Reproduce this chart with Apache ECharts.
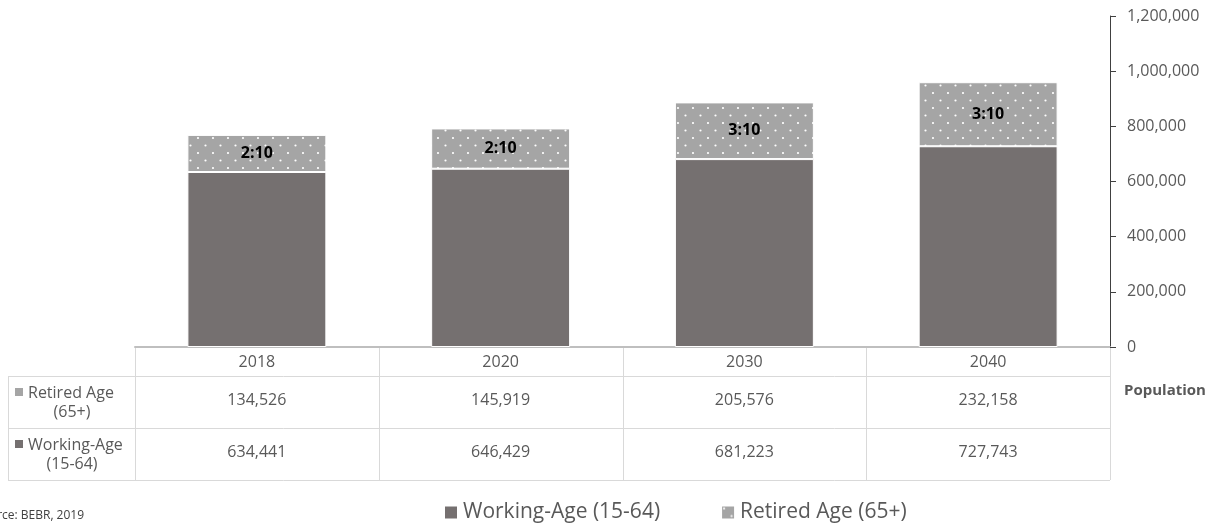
<!DOCTYPE html>
<html>
<head>
<meta charset="utf-8">
<script src="https://cdn.jsdelivr.net/npm/echarts@6/dist/echarts.min.js"></script>
<style>
html, body { margin: 0; padding: 0; background: #fff; }
#main { width: 1220px; height: 523px; }
</style>
</head>
<body>
<div id="main"></div>
<script>
var years = ['2018', '2020', '2030', '2040'];
var working = [634441, 646429, 681223, 727743];
var retired = [134526, 145919, 205576, 232158];
var ratios = ['2:10', '2:10', '3:10', '3:10'];
var seriesNames = ['Working-Age (15-64)', 'Retired Age (65+)'];

var FONT = 'Open Sans';
var TXT = '#595959';
var DARK = '#757070';
var GREY = '#a5a5a5';
var LINE = '#d9d9d9';

// grid / table geometry
var gLeft = 135, gRight = 1110, gTop = 16, gBottom = 347;
var rowY = [347, 376, 428, 480];
var tableLeft = 8;

function fmt(v) {
	return v.toString().replace(/\B(?=(\d{3})+(?!\d))/g, ',');
}

// dotted fill for the retired series
function dotPattern() {
	var c = document.createElement('canvas');
	c.width = 15;
	c.height = 15;
	var ctx = c.getContext('2d');
	ctx.fillStyle = GREY;
	ctx.fillRect(0, 0, 15, 15);
	ctx.fillStyle = '#ffffff';
	ctx.beginPath();
	ctx.arc(3, 3, 1.1, 0, Math.PI * 2);
	ctx.arc(10.5, 10.5, 1.1, 0, Math.PI * 2);
	ctx.fill();
	return c;
}

var chart = echarts.init(document.getElementById('main'));

// table borders
var graphics = [];
var colW = (gRight - gLeft) / years.length;
function hline(x1, x2, y) {
	graphics.push({ type: 'line', shape: { x1: x1, y1: y, x2: x2, y2: y }, style: { stroke: LINE, lineWidth: 1 }, silent: true });
}
function vline(x, y1, y2) {
	graphics.push({ type: 'line', shape: { x1: x, y1: y1, x2: x, y2: y2 }, style: { stroke: LINE, lineWidth: 1 }, silent: true });
}
for (var r = 1; r < rowY.length; r++) hline(tableLeft, gRight, rowY[r] + 0.5);
vline(tableLeft + 0.5, rowY[1], rowY[3]);
for (var i = 0; i <= years.length; i++) vline(Math.round(gLeft + i * colW) + 0.5, rowY[0], rowY[3]);

// row headers
var rowNames = [['Retired Age', '(65+)'], ['Working-Age', '(15-64)']];
var rowColors = [GREY, DARK];
for (var k = 0; k < 2; k++) {
	var cy = (rowY[k + 1] + rowY[k + 2]) / 2;
	graphics.push({
		type: 'rect',
		shape: { x: 15, y: cy - 14, width: 8, height: 8 },
		style: { fill: rowColors[k] },
		silent: true
	});
	graphics.push({
		type: 'text',
		x: 28, y: cy - 9,
		style: { text: rowNames[k][0], font: '16px "' + FONT + '"', fill: TXT, align: 'left', verticalAlign: 'middle' },
		silent: true
	});
	graphics.push({
		type: 'text',
		x: 72, y: cy + 10,
		style: { text: rowNames[k][1], font: '16px "' + FONT + '"', fill: TXT, align: 'center', verticalAlign: 'middle' },
		silent: true
	});
}
graphics.push({
	type: 'text',
	x: 1124, y: 391,
	style: { text: 'Population', font: 'bold 15px "' + FONT + '"', fill: TXT, align: 'left', verticalAlign: 'middle' },
	silent: true
});
graphics.push({
	type: 'text',
	x: -24, y: 516,
	style: { text: 'Source: BEBR, 2019', font: '12px "' + FONT + '"', fill: '#404040', align: 'left', verticalAlign: 'middle' },
	silent: true
});

var tableAxis = function (margin, formatter) {
	return {
		type: 'category',
		data: years,
		position: 'bottom',
		axisLine: { show: false },
		axisTick: { show: false },
		splitLine: { show: false },
		axisLabel: { margin: margin, color: TXT, fontSize: 16, fontFamily: FONT, formatter: formatter, interval: 0 }
	};
};

var option = {
	animation: false,
	backgroundColor: '#fff',
	textStyle: { fontFamily: FONT },
	grid: { left: gLeft, right: 1220 - gRight, top: gTop, bottom: 523 - gBottom, containLabel: false },
	legend: {
		top: 497,
		left: 438,
		data: seriesNames,
		itemWidth: 14,
		itemHeight: 14,
		itemGap: 60,
		icon: 'rect',
		textStyle: { fontSize: 21, color: TXT, fontFamily: FONT },
		selectedMode: false
	},
	xAxis: [
		{
			type: 'category',
			data: years,
			axisLine: { lineStyle: { color: '#bfbfbf', width: 2 } },
			axisTick: { show: false },
			axisLabel: { margin: 7, color: TXT, fontSize: 16, fontFamily: FONT }
		},
		tableAxis(45, function (v, i) { return fmt(retired[i]); }),
		tableAxis(97, function (v, i) { return fmt(working[i]); })
	],
	yAxis: {
		type: 'value',
		position: 'right',
		min: 0,
		max: 1200000,
		interval: 200000,
		axisLine: { show: true, lineStyle: { color: '#404040', width: 1 } },
		axisTick: { show: true, length: 6, lineStyle: { color: '#404040' } },
		splitLine: { show: false },
		axisLabel: { margin: 17, color: TXT, fontSize: 16, fontFamily: FONT, formatter: function (v) { return fmt(v); } }
	},
	series: [
		{
			name: seriesNames[0],
			type: 'bar',
			stack: 'pop',
			barWidth: '57%',
			data: working,
			itemStyle: { color: DARK, borderColor: '#fff', borderWidth: 1 }
		},
		{
			name: seriesNames[1],
			type: 'bar',
			stack: 'pop',
			barWidth: '57%',
			data: retired,
			itemStyle: { color: { image: dotPattern(), repeat: 'repeat' }, borderColor: '#fff', borderWidth: 1 },
			label: {
				show: true,
				position: 'inside',
				color: '#000',
				fontWeight: 'bold',
				fontSize: 16,
				fontFamily: FONT,
				formatter: function (p) { return ratios[p.dataIndex]; }
			}
		}
	],
	graphic: graphics
};

chart.setOption(option);
</script>
</body>
</html>
